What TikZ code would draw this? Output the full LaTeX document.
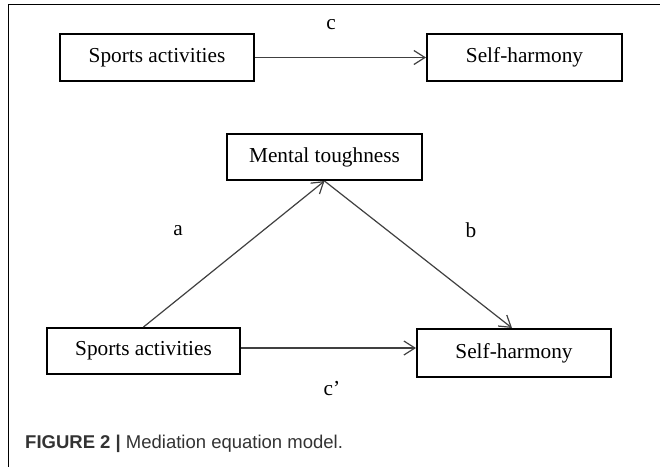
\documentclass[tikz,border=0pt]{standalone}
\usepackage{fontspec}
\setmainfont{Liberation Serif}
\newfontfamily\capfont{Liberation Sans}
\usetikzlibrary{arrows.meta}
\definecolor{linegray}{HTML}{404040}
\definecolor{capgray}{HTML}{333333}
\tikzset{
  varbox/.style={draw=black, line width=2pt, inner sep=0pt, font=\fontsize{21.3}{24}\selectfont, text=black},
  conn/.style={draw=linegray, line width=1.2pt, -{Straight Barb[length=11pt,width=14pt,line width=1.2pt]}},
  lbl/.style={font=\fontsize{21.3}{24}\selectfont, inner sep=0pt}
}
\begin{document}
\begin{tikzpicture}[x=1pt,y=-1pt]
\useasboundingbox (0,0) rectangle (660,467);
\fill[white] (0,0) rectangle (660,467);
\draw[black, line width=1pt] (660,4) -- (8,4) -- (8,467);
\node[varbox, minimum width=194pt, minimum height=47pt] (sa1) at (157,57.5) {Sports activities};
\node[varbox, minimum width=195pt, minimum height=47pt] (sh1) at (524.5,57.5) {Self-harmony};
\node[varbox, minimum width=195pt, minimum height=46pt] (mt) at (324.5,157) {Mental toughness};
\node[varbox, minimum width=193pt, minimum height=46pt] (sa2) at (143.5,351) {Sports activities};
\node[varbox, minimum width=194pt, minimum height=48pt] (sh2) at (514,353) {Self-harmony};
\draw[conn] (sa1) -- (sh1);
\draw[conn] ([yshift=3pt]sa2.east) -- ([yshift=3pt]sa2.east -| sh2.west);
\draw[conn] (sa2.north) -- (mt.south);
\draw[conn] (mt.south) -- ([xshift=-2pt]sh2.north);
\node[lbl] (lc) at (331,25) {c};
\node[lbl] (lcp) at (332,389) {c’};
\node[lbl] (la) at (178,231) {a};
\node[lbl] (lb) at (471,230) {b};
\node[anchor=base west, inner sep=0pt, text=capgray, font=\capfont\fontsize{18.5}{21}\selectfont] (cap) at (25,448) {\textbf{FIGURE 2 |} Mediation equation model.};
\end{tikzpicture}
\end{document}
